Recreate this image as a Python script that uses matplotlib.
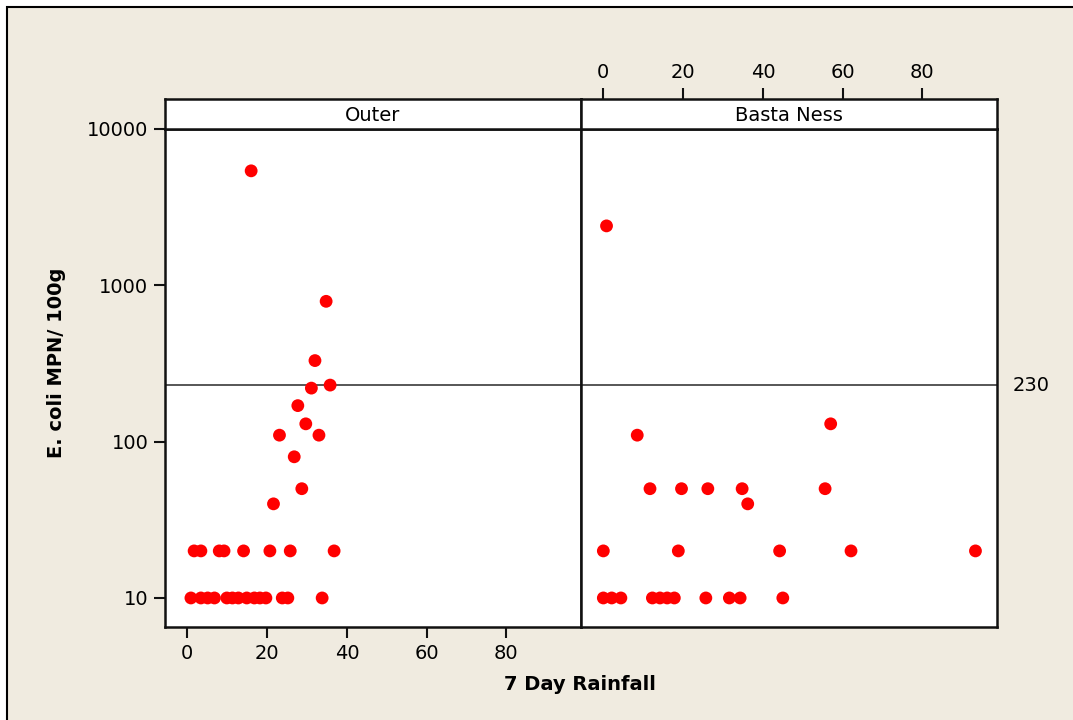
import matplotlib
matplotlib.use("Agg")
import matplotlib.pyplot as plt
from matplotlib.patches import Rectangle

# Rainfall (mm over 7 days) vs E. coli result, by site
outer_rain = [0.9, 3.4, 5.1, 6.8, 9.9, 11.3, 12.8, 14.9, 16.8, 18.2, 19.7, 23.8, 25.2, 33.8,
              1.7, 3.4, 8.0, 9.2, 14.1, 20.7, 25.8, 36.8,
              21.6, 28.7, 26.8, 23.1, 33.0, 29.7, 27.7, 31.1, 35.8, 32.0, 34.8, 16.0]
outer_ecoli = [10] * 14 + [20] * 8 + [40, 50, 80, 110, 110, 130, 170, 220, 230, 330, 790, 5400]

basta_rain = [0.0, 2.1, 4.4, 12.3, 14.2, 16.0, 17.8, 25.7, 31.6, 34.3, 45.0,
              0.0, 18.8, 44.2, 62.1, 93.3,
              11.7, 19.6, 26.2, 34.8, 55.6,
              36.2, 8.5, 57.0, 0.8]
basta_ecoli = [10] * 11 + [20] * 5 + [50] * 5 + [40, 110, 130, 2400]

panels = ["Outer", "Basta Ness"]
limite = 230

plt.rcParams['font.family'] = ['DejaVu Sans']
W, H = 1073, 720
fig = plt.figure(figsize=(W / 100, H / 100), dpi=100)
fig.patch.set_facecolor("white")

# fondo beige con borde
fondo = Rectangle((7 / W, -0.1), 1.2, 1 - 7 / H + 0.1, transform=fig.transFigure,
                  facecolor="#F0EBE0", edgecolor="black", linewidth=1.5, zorder=-10)
fig.patches.append(fondo)

x0, xm, x1 = 165 / W, 581 / W, 997 / W
y_bot, y_dat, y_top = 1 - 627 / H, 1 - 129 / H, 1 - 99 / H

ax1 = fig.add_axes([x0, y_bot, xm - x0, y_dat - y_bot])
ax2 = fig.add_axes([xm, y_bot, x1 - xm, y_dat - y_bot], sharey=ax1)
s1 = fig.add_axes([x0, y_dat, xm - x0, y_top - y_dat])
s2 = fig.add_axes([xm, y_dat, x1 - xm, y_top - y_dat], sharex=ax2)

datos = [(outer_rain, outer_ecoli), (basta_rain, basta_ecoli)]
for ax, (xs, ys) in zip([ax1, ax2], datos):
    ax.scatter(xs, ys, s=85, color="red", edgecolors="none", zorder=3)
    ax.axhline(limite, color="#3a3a3a", linewidth=1.2, zorder=2)
    ax.set_yscale("log")
    ax.set_ylim(6.52, 10000)
    ax.set_xlim(-5.6, 98.7)
    ax.set_facecolor("white")
    for sp in ax.spines.values():
        sp.set_linewidth(1.8)
        sp.set_color("#111111")
    ax.minorticks_off()

ax1.set_yticks([10, 100, 1000, 10000])
ax1.set_yticklabels(["10", "100", "1000", "10000"])
ax1.set_xticks([0, 20, 40, 60, 80])
ax1.tick_params(axis="both", direction="out", length=8, width=1.5, labelsize=14,
                color="#111111", pad=4)
ax2.tick_params(axis="both", left=False, labelleft=False, bottom=False, labelbottom=False)

# tiras con el nombre del sitio
for s, nombre in zip([s1, s2], panels):
    s.set_facecolor("white")
    for sp in s.spines.values():
        sp.set_linewidth(1.8)
        sp.set_color("#111111")
    s.text(0.5, 0.45, nombre, transform=s.transAxes, ha="center", va="center", fontsize=14)
    s.tick_params(axis="y", left=False, labelleft=False)
s1.set_xticks([])
s1.set_yticks([])
s2.set_yticks([])
s2.set_xticks([0, 20, 40, 60, 80])
s2.tick_params(axis="x", bottom=False, labelbottom=False, top=True, labeltop=True,
               direction="out", length=8, width=1.5, labelsize=14, color="#111111", pad=4)

ax2.annotate(str(limite), xy=(1, limite), xycoords=("axes fraction", "data"),
             xytext=(11, 0), textcoords="offset points", ha="left", va="center", fontsize=14)

fig.text(580 / W, 1 - 685 / H, "7 Day Rainfall", ha="center", va="center",
         fontsize=14, fontweight="bold")
fig.text(57 / W, 1 - 363 / H, "E. coli MPN/ 100g", ha="center", va="center",
         rotation=90, fontsize=14, fontweight="bold")

fig.savefig("out.png", dpi=100, facecolor=fig.get_facecolor())
